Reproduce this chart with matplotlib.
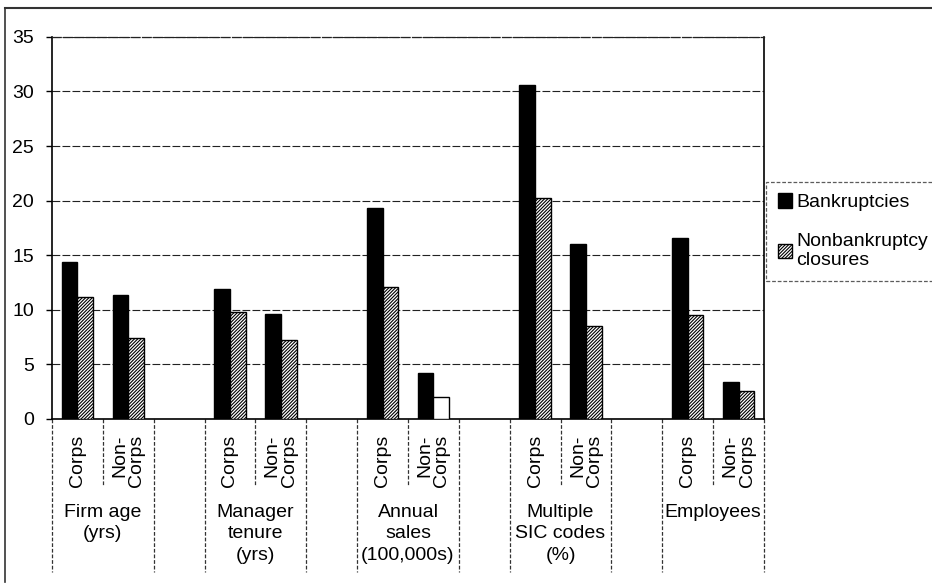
import numpy as np
import matplotlib
matplotlib.use("Agg")
import matplotlib.pyplot as plt
from matplotlib.lines import Line2D
from matplotlib.patches import Patch

plt.rcParams['font.family'] = ['Liberation Sans', 'DejaVu Sans']
plt.rcParams['hatch.linewidth'] = 0.8

groups = ["Firm age\n(yrs)", "Manager\ntenure\n(yrs)", "Annual\nsales\n(100,000s)",
          "Multiple\nSIC codes\n(%)", "Employees"]
subgroups = ["Corps", "Non-\nCorps"]
series = ["Bankruptcies", "Nonbankruptcy\nclosures"]

# values per group: Corps, Non-Corps
bankruptcies = [[14.4, 11.4], [11.9, 9.6], [19.3, 4.2], [30.6, 16.0], [16.6, 3.4]]
closures = [[11.2, 7.4], [9.8, 7.2], [12.1, 2.0], [20.2, 8.5], [9.5, 2.6]]

FS = 14
HATCH = '/' * 10

fig = plt.figure(figsize=(9.32, 5.86), dpi=100)
ax = fig.add_axes([0.0558, 0.285, 0.7639, 0.652])

# every group takes two slots, with one empty slot between groups
centers = []
for g in range(len(groups)):
    centers += [3 * g + 0.5, 3 * g + 1.5]
centers = np.array(centers)
b_vals = np.array(bankruptcies).ravel()
c_vals = np.array(closures).ravel()

w = 0.31
ax.bar(centers - w / 2, b_vals, w, color='black', edgecolor='black', lw=1, zorder=3)
cb = ax.bar(centers + w / 2, c_vals, w, color='white', edgecolor='black', lw=1,
            hatch=HATCH, zorder=3)
cb[5].set_hatch('')   # Annual sales, Non-Corps drawn plain

ax.set_xlim(0, 3 * len(groups) - 1)
ax.set_ylim(0, 35)
ax.set_yticks(range(0, 36, 5))
ax.set_xticks([])
ax.tick_params(axis='y', length=4, width=1, labelsize=FS, pad=9)
ax.yaxis.grid(True, color='#222222', lw=0.8, ls=(0, (7, 2)))
ax.set_axisbelow(True)
for s in ['left', 'bottom', 'right']:
    ax.spines[s].set_color('black')
    ax.spines[s].set_linewidth(1.2)
ax.spines['top'].set_color('#222222')
ax.spines['top'].set_linewidth(0.9)
ax.spines['top'].set_linestyle((0, (7, 2)))

# hierarchical category axis under the plot
trans = ax.get_xaxis_transform()
sep_kw = dict(transform=trans, clip_on=False, color='#333333', lw=0.9, ls=(0, (3, 1.5)))
for g in range(len(groups)):
    x0 = 3 * g
    for xs in [x0, x0 + 2]:
        ax.add_line(Line2D([xs, xs], [0, -0.40], **sep_kw))
    ax.add_line(Line2D([x0 + 1, x0 + 1], [0, -0.175], **sep_kw))
    for k, lab in enumerate(subgroups):
        ax.text(x0 + 0.5 + k, -0.042, lab, transform=trans, rotation=90,
                ha='center', va='top', multialignment='right', fontsize=FS,
                linespacing=1.0)
    ax.text(x0 + 1, -0.222, groups[g], transform=trans, ha='center', va='top',
            multialignment='center', fontsize=FS, linespacing=1.35)

handles = [Patch(facecolor='black', edgecolor='black'),
           Patch(facecolor='white', edgecolor='black', hatch=HATCH)]
leg = fig.legend(handles, series, loc='upper left', bbox_to_anchor=(0.822, 0.69),
                 fontsize=FS, frameon=True, fancybox=False, handlelength=0.75,
                 handleheight=0.75, handletextpad=0.2, labelspacing=1.1,
                 borderpad=0.6, borderaxespad=0)
leg.get_frame().set_edgecolor('#333333')
leg.get_frame().set_linewidth(0.9)
leg.get_frame().set_linestyle((0, (3, 1.5)))

# outer frame
fig.add_artist(Line2D([0.0054, 1.0], [0.9863, 0.9863], transform=fig.transFigure,
                      color='#333333', lw=1.5))
fig.add_artist(Line2D([0.0054, 0.0054], [0.9863, 0.007], transform=fig.transFigure,
                      color='#333333', lw=1.2))

fig.savefig("out.png", dpi=100)
